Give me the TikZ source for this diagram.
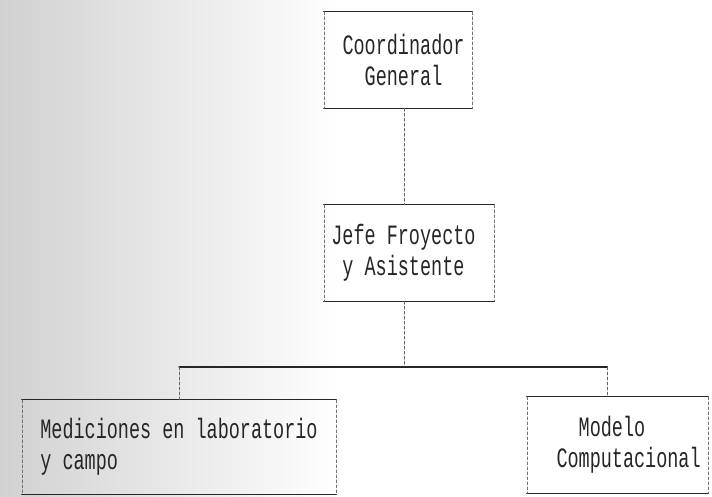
\documentclass[tikz,border=0pt]{standalone}
\usepackage{fontspec}
\newfontfamily\matriz[FakeStretch=0.66]{Liberation Mono}

\begin{document}
\begin{tikzpicture}[line cap=round,line join=round,x=1pt,y=1pt,
		caja/.style={rectangle,inner sep=0pt,align=left,text=black!85,font=\matriz\fontsize{28}{31}\selectfont},
		borde/.style={line width=1.3pt,black!85},
		lado/.style={line width=0.6pt,black!55,densely dashed},
		enlace/.style={line width=0.7pt,black!60,densely dashed}]%organigrama
	\useasboundingbox (0,0) rectangle (712,496);
	\shade[left color=black!18,right color=white] (0,0) rectangle (340,496);
	\node[caja,minimum width=148pt,minimum height=96pt] (coord) at (398,436) {\phantom{x}Coordinador\\\phantom{xxx}General};
	\node[caja,minimum width=170pt,minimum height=96pt] (jefe) at (409,243) {Jefe Froyecto\phantom{x}\\\phantom{x}y Asistente};
	\node[caja,minimum width=314pt,minimum height=94pt] (medic) at (179,49) {Mediciones en laboratorio\\y campo};
	\node[caja,minimum width=181pt,minimum height=96pt] (modelo) at (617.5,51) {\phantom{xxxx}Modelo\\\phantom{xx}Computacional};
	\foreach \n in {coord,jefe,medic,modelo}{
		\draw[borde] (\n.north west) -- (\n.north east);
		\draw[borde] (\n.south west) -- (\n.south east);
		\draw[lado] (\n.north west) -- (\n.south west);
		\draw[lado] (\n.north east) -- (\n.south east);
	}
	\coordinate (rama) at (404,129);
	\draw[enlace] (coord.south -| rama) -- (jefe.north -| rama);
	\draw[enlace] (jefe.south -| rama) -- (rama);
	\draw[borde] (medic.north |- rama) -- ([xshift=-10pt]modelo.north |- rama);
	\draw[enlace] (medic.north |- rama) -- (medic.north);
	\draw[enlace] ([xshift=-10pt]modelo.north |- rama) -- ([xshift=-10pt]modelo.north);
\end{tikzpicture}
\end{document}
